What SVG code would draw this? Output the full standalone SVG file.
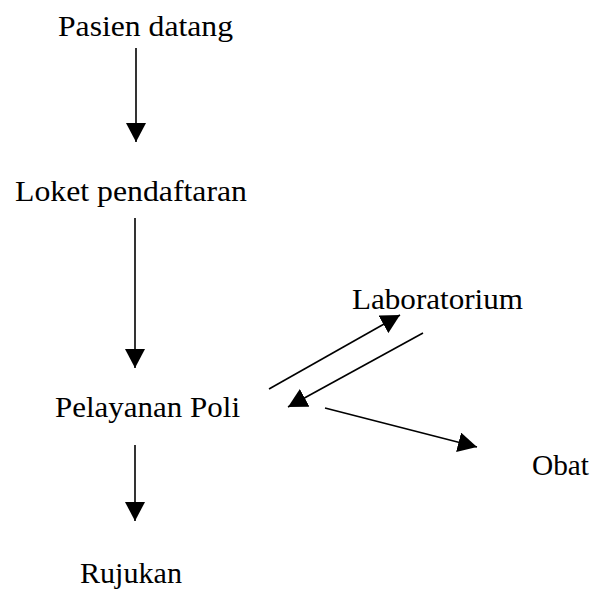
<svg xmlns="http://www.w3.org/2000/svg" width="594" height="589" viewBox="0 0 594 589">
  <style>
    .label { font-family: "Liberation Serif", "Times New Roman", serif; font-size: 30px; fill: #000; }
    .edge { stroke: #000; stroke-width: 1.6; fill: none; marker-end: url(#head); }
  </style>
  <defs>
    <marker id="head" markerUnits="userSpaceOnUse" markerWidth="20" markerHeight="20" viewBox="0 0 20 20" refX="19" refY="10" orient="auto">
      <path d="M0,0 L19,10 L0,20 z" fill="#000"/>
    </marker>
  </defs>
  <rect width="594" height="589" fill="#fff"/>

  <g id="pasien"><text class="label" x="58" y="36" textLength="175" lengthAdjust="spacingAndGlyphs">Pasien datang</text></g>
  <g id="loket"><text class="label" x="15" y="201" textLength="232" lengthAdjust="spacingAndGlyphs">Loket pendaftaran</text></g>
  <g id="poli"><text class="label" x="55" y="417" textLength="185" lengthAdjust="spacingAndGlyphs">Pelayanan Poli</text></g>
  <g id="lab"><text class="label" x="352" y="309" textLength="171" lengthAdjust="spacingAndGlyphs">Laboratorium</text></g>
  <g id="obat"><text class="label" x="532" y="475" textLength="57" lengthAdjust="spacingAndGlyphs">Obat</text></g>
  <g id="rujukan"><text class="label" x="80" y="583" textLength="102" lengthAdjust="spacingAndGlyphs">Rujukan</text></g>

  <g id="connectors">
    <line class="edge" x1="136" y1="48" x2="136" y2="142"/>
    <line class="edge" x1="135" y1="218" x2="135" y2="368"/>
    <line class="edge" x1="135" y1="445" x2="135" y2="521"/>
    <line class="edge" x1="269" y1="389" x2="400" y2="315"/>
    <line class="edge" x1="423" y1="333" x2="288" y2="407"/>
    <line class="edge" x1="325" y1="408" x2="477" y2="447"/>
  </g>
</svg>
